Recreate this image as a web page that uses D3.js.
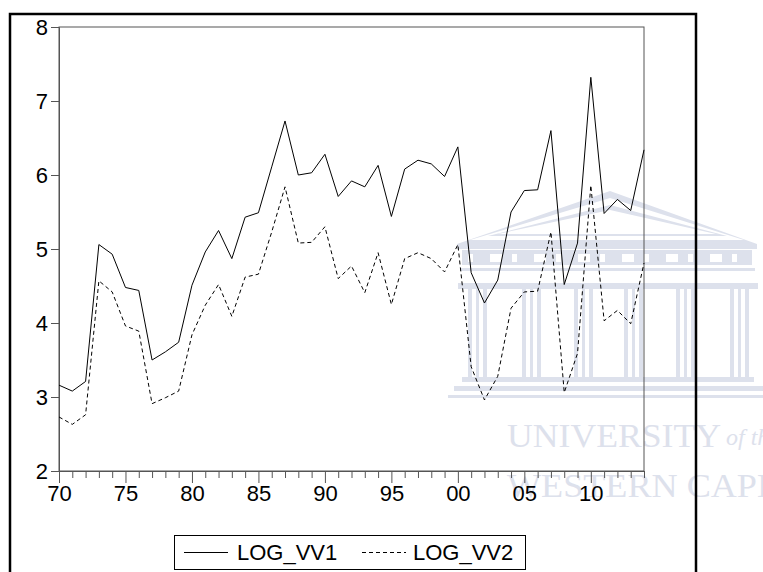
<!DOCTYPE html>
<head>
    <meta charset="utf-8">
    <title>LOG_VV</title>
    <script type="text/javascript" src="https://d3js.org/d3.v7.min.js"></script>
    <style>
        body { margin: 0; background: #fff; }
        text { font-family: Arial, "Liberation Sans", sans-serif; }
    </style>
</head>
<body>
<div id="container"></div>
<script>
    //------------------------------DATA------------------------------//
    const years = d3.range(1970, 2015);
    const logVV1 = [3.16, 3.08, 3.21, 5.06, 4.93, 4.48, 4.44, 3.50, 3.61, 3.74,
        4.51, 4.96, 5.25, 4.87, 5.43, 5.49, 6.11, 6.73, 6.00, 6.03,
        6.28, 5.71, 5.92, 5.84, 6.13, 5.44, 6.08, 6.20, 6.15, 5.98,
        6.38, 4.68, 4.27, 4.58, 5.50, 5.79, 5.80, 6.60, 4.52, 5.08,
        7.32, 5.48, 5.67, 5.52, 6.34];
    const logVV2 = [2.73, 2.63, 2.76, 4.57, 4.42, 3.96, 3.89, 2.91, 2.99, 3.08,
        3.84, 4.24, 4.52, 4.09, 4.62, 4.66, 5.23, 5.84, 5.08, 5.09,
        5.30, 4.60, 4.77, 4.41, 4.95, 4.25, 4.87, 4.95, 4.87, 4.69,
        5.06, 3.41, 2.96, 3.28, 4.20, 4.42, 4.43, 5.23, 3.06, 3.59,
        5.86, 4.03, 4.17, 3.99, 4.81];
    const seriesNames = ["LOG_VV1", "LOG_VV2"];
    const xTickLabels = {1970: "70", 1975: "75", 1980: "80", 1985: "85", 1990: "90",
        1995: "95", 2000: "00", 2005: "05", 2010: "10"};
    const yTicks = [2, 3, 4, 5, 6, 7, 8];

    //------------------------------SVG-------------------------------//
    const width = 763;
    const height = 572;
    const plot = {left: 59, top: 27, right: 644, bottom: 471};

    const svg = d3.select("div#container").append("svg")
        .attr("width", width)
        .attr("height", height);

    svg.append("rect").attr("width", width).attr("height", height).attr("fill", "#fff");

    //---------------------------WATERMARK----------------------------//
    // faint university crest behind the chart
    const wm = svg.append("g").attr("fill", "#dde1ec").attr("stroke", "none");
    wm.append("path")
        .attr("d", "M457,244 L610,191 L757,244 Z M470,240 L610,198 L744,240 Z")
        .attr("fill-rule", "evenodd");
    wm.append("path")
        .attr("d", "M488,236 L610,205 L727,236 Z M498,234 L610,210 L716,234 Z")
        .attr("fill-rule", "evenodd");
    wm.append("rect").attr("x", 457).attr("y", 244).attr("width", 300).attr("height", 5);
    const frieze = wm.append("g");
    frieze.append("rect").attr("x", 462).attr("y", 250).attr("width", 290).attr("height", 15);
    d3.range(468, 748, 22).forEach(function (x, i) {
        frieze.append("rect").attr("x", x).attr("y", 254).attr("width", i % 2 ? 12 : 5)
            .attr("height", 8).attr("fill", "#fff");
    });
    wm.append("rect").attr("x", 460).attr("y", 268).attr("width", 295).attr("height", 3);
    wm.append("rect").attr("x", 458).attr("y", 283).attr("width", 300).attr("height", 6);
    [468, 522, 574, 624, 676, 730].forEach(function (x) {
        wm.append("rect").attr("x", x).attr("y", 289).attr("width", 4).attr("height", 88);
        wm.append("rect").attr("x", x + 8).attr("y", 289).attr("width", 3).attr("height", 88);
        wm.append("rect").attr("x", x + 15).attr("y", 289).attr("width", 4).attr("height", 88);
    });
    wm.append("rect").attr("x", 462).attr("y", 377).attr("width", 292).attr("height", 5);
    wm.append("rect").attr("x", 454).attr("y", 386).attr("width", 309).attr("height", 5);
    wm.append("rect").attr("x", 448).attr("y", 395).attr("width", 315).attr("height", 3);
    wm.append("text").attr("x", 507).attr("y", 447)
        .attr("textLength", 214).attr("lengthAdjust", "spacingAndGlyphs")
        .style("font-family", "'Liberation Serif', 'DejaVu Serif', serif")
        .style("font-size", "33px")
        .text("UNIVERSITY");
    wm.append("text").attr("x", 726).attr("y", 445)
        .style("font-family", "'Liberation Serif', 'DejaVu Serif', serif")
        .style("font-size", "24px").style("font-style", "italic")
        .text("of the");
    wm.append("text").attr("x", 507).attr("y", 497)
        .attr("textLength", 272).attr("lengthAdjust", "spacingAndGlyphs")
        .style("font-family", "'Liberation Serif', 'DejaVu Serif', serif")
        .style("font-size", "33px")
        .text("WESTERN  CAPE");

    //-----------------------------SCALES-----------------------------//
    const xScale = d3.scaleLinear().domain([1970, 2014]).range([plot.left, plot.right]);
    const yScale = d3.scaleLinear().domain([2, 8]).range([plot.bottom, plot.top]);

    //------------------------------FRAMES----------------------------//
    svg.append("path")
        .attr("d", "M10," + height + " L10,14 L696,14 L696," + height)
        .attr("fill", "none")
        .attr("stroke", "#000")
        .attr("stroke-width", 2.5);

    svg.append("rect")
        .attr("x", plot.left).attr("y", plot.top)
        .attr("width", plot.right - plot.left)
        .attr("height", plot.bottom - plot.top)
        .attr("fill", "none")
        .attr("stroke", "#555")
        .attr("stroke-width", 1);

    //------------------------------AXES------------------------------//
    const yaxis = d3.axisLeft(yScale).tickValues(yTicks).tickSize(8).tickPadding(3)
        .tickFormat(d3.format("d"));
    const gy = svg.append("g")
        .attr("transform", "translate(" + plot.left + ",0)")
        .call(yaxis);

    const xaxis = d3.axisBottom(xScale).tickValues(years)
        .tickSize(7).tickPadding(6)
        .tickFormat(function (d) { return xTickLabels[d] || ""; });
    const gx = svg.append("g")
        .attr("transform", "translate(0," + plot.bottom + ")")
        .call(xaxis);
    gx.selectAll(".tick line")
        .attr("y2", function (d) { return xTickLabels[d] ? 12 : 7; });
    gx.selectAll(".tick text").attr("y", 14);

    [gx, gy].forEach(function (g) {
        g.select(".domain").attr("stroke", "#555");
        g.selectAll(".tick line").attr("stroke", "#555");
        g.selectAll(".tick text")
            .attr("fill", "#000")
            .style("font-size", "22px")
            .style("font-family", "Arial, 'Liberation Sans', sans-serif");
    });
    gy.selectAll(".tick text").attr("dy", "0.36em");

    //------------------------------LINES-----------------------------//
    const line = d3.line()
        .x(function (d) { return xScale(d.year); })
        .y(function (d) { return yScale(d.value); });

    const series = [
        {name: seriesNames[0], dash: null, values: years.map(function (y, i) { return {year: y, value: logVV1[i]}; })},
        {name: seriesNames[1], dash: "4,3", values: years.map(function (y, i) { return {year: y, value: logVV2[i]}; })}
    ];

    svg.selectAll(".series")
        .data(series)
        .enter()
        .append("path")
        .attr("class", "series")
        .attr("fill", "none")
        .attr("stroke", "#000")
        .attr("stroke-width", 1)
        .attr("stroke-dasharray", function (d) { return d.dash; })
        .attr("d", function (d) { return line(d.values); });

    //-----------------------------LEGEND-----------------------------//
    const legend = svg.append("g");
    legend.append("rect")
        .attr("x", 174.5).attr("y", 535.5)
        .attr("width", 351).attr("height", 34)
        .attr("fill", "#fff")
        .attr("stroke", "#000")
        .attr("stroke-width", 1);

    const items = [
        {x: 184, tx: 237},
        {x: 362, tx: 413}
    ];
    series.forEach(function (s, i) {
        legend.append("line")
            .attr("x1", items[i].x).attr("x2", items[i].x + 44)
            .attr("y1", 552.5).attr("y2", 552.5)
            .attr("stroke", "#000")
            .attr("stroke-width", 1)
            .attr("stroke-dasharray", s.dash);
        legend.append("text")
            .attr("x", items[i].tx).attr("y", 560)
            .style("font-size", "22px")
            .text(s.name);
    });
</script>
</body>
